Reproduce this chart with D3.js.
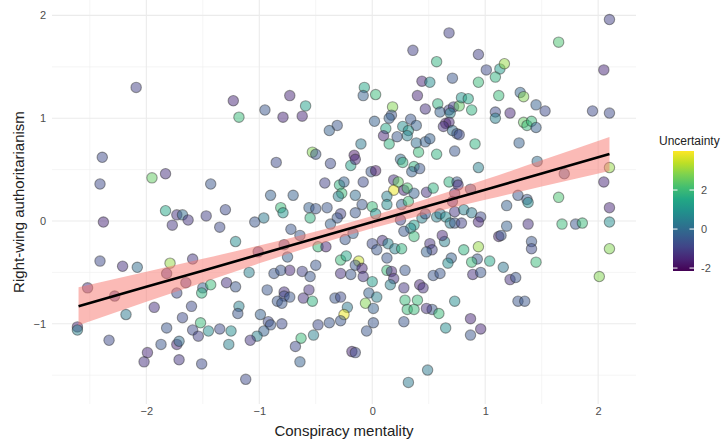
<!DOCTYPE html>
<html><head><meta charset="utf-8">
<script src="https://cdn.jsdelivr.net/npm/d3@7"></script>
<style>body{margin:0;background:#fff;} text{font-family:"Liberation Sans", Arial, sans-serif;}</style>
</head><body><svg id="c" width="722" height="442"></svg>
<script>
const conspiracy = [-2.09,-1.23,-1.18,-2.39,-2.41,-1.95,-1.83,-1.43,
0.36,-0.07,-0.08,0.03,0.44,0.51,0.40,0.47,-0.73,-0.95,-0.79,-0.62,-0.59,0.18,0.17,0.15,0.34,0.39,0.27,0.32,0.31,0.12,0.10,0.22,0.02,-0.31,-0.38,-0.10,0.15,0.39,0.47,0.41,0.25,0.27,0.37,0.35,0.42,-0.53,-0.50,-0.85,-0.37,-0.19,-0.16,-0.15,-0.01,0.03,-0.42,-0.29,-0.25,-0.08,-0.27,-0.30,-0.15,-0.90,-0.70,0.19,0.23,0.19,0.28,0.31,0.37,0.48,0.13,
0.57,0.71,0.58,0.60,0.68,0.72,0.69,0.77,0.65,0.68,0.63,0.71,0.75,0.51,0.57,0.73,0.68,0.75,
0.68,2.10,1.65,0.94,1.01,1.13,1.17,1.09,0.94,2.05,1.12,1.31,1.34,0.79,0.85,0.88,1.09,1.09,1.22,1.45,1.53,1.95,2.10,1.34,1.37,1.41,1.45,0.77,1.30,0.91,0.94,1.46,1.70,2.10,2.05,0.76,0.54,0.73,0.87,1.29,1.37,1.65,
1.19,1.38,2.10,2.10,1.68,1.80,1.86,1.38,1.19,2.10,2.01,1.41,1.41,1.45,1.12,1.14,0.94,0.81,0.93,0.88,1.04,1.16,0.89,0.96,1.22,1.27,1.29,1.35,0.73,0.53,0.59,0.87,0.96,0.87,0.65,0.49,0.51,0.53,0.64,0.62,0.70,0.67,0.54,0.60,0.57,0.60,0.65,0.69,0.73,0.79,0.73,0.81,0.88,0.96,0.94,0.71,
-0.81,-0.79,-0.56,-0.50,-0.55,-0.40,-0.28,-0.31,-0.37,-0.15,-0.09,0.00,0.03,0.13,0.26,0.32,0.44,0.47,0.37,0.34,0.28,0.25,0.37,-1.04,-0.96,-0.72,-0.64,-0.78,-0.48,-0.41,-0.24,-0.17,0.00,0.09,0.14,0.04,0.20,0.26,0.13,0.48,-0.75,-0.28,-0.23,-0.12,-0.15,-0.09,-0.73,-0.62,-0.87,-0.81,-0.55,-0.50,-1.09,-0.28,-0.19,-0.08,0.00,0.13,0.17,0.19,0.16,0.29,0.42,0.45,0.28,-0.93,-0.78,-0.78,-0.73,-0.84,-0.80,-0.56,-0.61,-0.53,-0.33,-0.28,-0.03,-0.06,0.01,0.04,-0.22,-0.25,-0.28,0.29,0.40,0.31,0.37,0.48,0.28,0.01,-0.05,-0.38,-0.48,-0.52,-0.63,-0.68,-0.64,-0.99,-0.92,-0.90,-0.80,-0.96,-1.02,-1.08,-0.18,-0.15,-1.12,0.32,
-1.83,-1.73,-1.68,-1.63,-1.77,-1.47,-1.30,-1.35,-2.38,-1.21,-2.41,-2.21,-2.08,-1.79,-1.82,-1.59,-1.65,-2.52,-2.28,-1.73,-1.50,-1.43,-1.51,-1.29,-1.21,-1.18,-1.19,-1.93,-1.60,-2.18,-1.68,-1.52,-1.82,-1.59,-1.54,-1.45,-1.35,-1.25,-1.27,-2.61,-2.61,-2.33,-1.87,-1.73,-1.71,-1.99,-2.02,-1.71,-1.51,
-1.01];
const rwa = [1.30,1.17,1.01,0.62,0.36,0.42,0.46,0.36,
1.66,1.30,1.22,1.23,1.36,1.35,1.22,1.09,1.22,1.08,1.01,1.02,1.12,1.11,1.03,1.00,0.99,0.93,0.92,0.88,0.83,0.90,0.83,0.82,0.97,0.93,0.88,0.75,0.75,0.76,0.77,0.67,0.60,0.57,0.53,0.48,0.51,0.67,0.65,0.57,0.56,0.54,0.64,0.60,0.48,0.49,0.37,0.35,0.38,0.38,0.27,0.24,0.25,0.25,0.25,0.40,0.38,0.30,0.30,0.32,0.27,0.28,0.24,
1.55,1.39,1.14,1.06,1.08,1.11,1.05,1.12,0.95,0.96,0.92,0.88,0.85,0.80,0.65,0.68,0.38,0.38,
1.83,1.96,1.74,1.62,1.47,1.48,1.53,1.40,1.35,1.47,1.22,1.25,1.21,1.20,1.19,1.08,1.06,1.00,1.05,1.13,1.07,1.07,1.05,0.96,0.93,0.97,0.91,0.84,0.76,0.75,0.52,0.58,0.46,0.52,0.38,0.35,0.32,0.27,0.31,0.25,0.21,0.23,
0.15,0.18,0.13,-0.01,-0.03,-0.03,-0.02,-0.03,-0.05,-0.27,-0.54,-0.20,-0.27,-0.40,-0.15,-0.14,-0.25,-0.28,-0.37,-0.40,-0.39,-0.45,-0.52,-0.50,-0.57,-0.55,-0.78,-0.78,-0.78,-0.86,-0.90,-0.95,-1.05,-1.11,-1.04,-1.45,-0.22,-0.28,-0.20,-0.14,-0.36,-0.41,-0.53,-0.51,0.04,0.07,0.04,-0.02,-0.02,-0.02,0.09,0.11,0.08,0.04,-0.01,0.19,
0.13,0.08,0.13,0.12,0.03,0.13,0.07,0.03,-0.03,0.08,0.16,0.14,0.07,0.16,0.16,0.19,0.03,0.07,-0.04,-0.07,-0.10,0.01,-0.15,-0.01,0.03,-0.08,-0.14,-0.23,-0.25,-0.25,-0.18,-0.12,-0.22,-0.19,-0.22,-0.28,-0.27,-0.27,-0.36,-0.30,-0.35,-0.38,-0.34,-0.39,-0.43,-0.46,-0.48,-0.49,-0.51,-0.48,-0.54,-0.43,-0.50,-0.51,-0.52,-0.54,-0.59,-0.48,-0.49,-0.56,-0.62,-0.48,-0.62,-0.65,-0.65,-0.67,-0.69,-0.73,-0.74,-0.78,-0.80,-0.67,-0.75,-0.78,-0.75,-0.74,-0.70,-0.80,-0.85,-0.74,-0.84,-0.91,-0.97,-0.77,-0.77,-0.86,-0.86,-0.85,-0.98,-0.99,-1.07,-0.99,-1.01,-1.11,-1.14,-1.22,-1.37,-0.91,-0.98,-1.01,-1.00,-1.07,-1.12,-1.16,-1.27,-1.28,-1.54,-1.57,
0.10,0.06,0.06,0.01,-0.04,0.05,0.11,-0.06,-0.01,-0.20,-0.39,-0.44,-0.45,-0.41,-0.51,-0.37,-0.60,-0.65,-0.73,-0.70,-0.65,-0.62,-0.70,-0.60,-0.64,-0.83,-0.90,-0.84,-0.83,-0.91,-0.94,-0.99,-1.04,-1.06,-1.12,-1.07,-1.05,-1.07,-1.20,-1.03,-1.06,-1.16,-1.20,-1.20,-1.17,-1.28,-1.37,-1.35,-1.39,
-0.30];
const uncertainty = [-1,-1.5,2,-0.8,-0.8,2.5,-1.3,-0.5,
-1,1.5,-0.3,2,-1.5,0.8,-1.5,-1.3,-1.5,-0.5,-1.5,-1.5,1.3,2.8,-0.5,-0.3,-0.5,-0.3,0.8,1,0.5,1.5,-1.5,-0.5,-0.3,-0.5,-0.3,0.3,1.8,0,-0.3,2,0,1.8,1.8,-0.3,-0.5,2.8,-0.5,-0.8,-0.8,1.3,-1.8,-1.5,-0.5,-1.8,-1,1.8,-0.3,-0.8,2,0.5,0,-0.3,-0.3,-1.3,2.5,3.8,-1.5,2.2,-0.3,-1.3,0.5,
1.8,-0.5,1.8,-0.3,-1,-1,0.5,2.5,-1.8,-1.5,-1.3,0,-0.5,-0.3,1.8,-0.5,1.8,-0.5,
-1,-1,2.2,-1,-0.8,1.2,3,1.8,2,-1.5,2,-0.2,2.8,1,1.5,1.8,-0.8,0.5,-1.5,-0.3,-0.8,-0.8,-0.8,2.5,2,2,-0.3,-0.8,-0.3,1.8,0.5,0,-0.5,3,-1.5,-1.3,1.8,-1.2,-0.5,-0.5,-0.5,2.2,
-0.3,0.8,-1.5,0.8,2,-0.5,2,-1.3,-0.3,2.8,2.8,-0.5,-0.8,2,-1.5,-0.5,3,1.8,-0.5,2,1.5,0.2,-1.3,-0.5,-1.3,-0.5,-0.5,-0.5,0.8,-0.5,2,-1.5,-1.5,-0.5,0.8,0.3,-1.3,-1,0.5,-1.5,-0.3,0.8,-0.5,-0.5,0.5,0.3,0.8,0.5,-0.5,-1,-1.2,0.5,0.3,-0.8,-1.5,-1.3,
2,1,-0.3,-0.5,1.8,-0.5,-1,-0.5,-0.3,-0.5,-0.5,2,1,0.8,-0.3,2,0.5,-0.5,1.2,0.8,-0.5,-1,2,-0.5,0.3,-0.5,-0.5,-1,2,-1.5,-0.5,-0.3,-0.8,-1.3,0.5,-0.5,0.5,1.8,-0.5,-0.3,-0.3,2,1.5,3.5,-0.5,-1.5,-1.5,-1,-0.5,-0.5,-0.5,-0.5,0.5,-1.3,-0.5,-1.2,1.2,2,-1.5,-1.3,0.5,-0.5,-1.5,-1.3,-1.2,-0.5,-1.3,-0.8,-0.5,-0.5,-0.5,-1.3,-1.3,1.8,-0.5,-0.8,-0.3,2.8,-0.3,0.5,0.3,3.8,-0.5,2,2,2,2,-1.3,-0.5,-0.5,-0.5,-0.5,-0.8,0.5,2,-0.8,-0.3,-0.3,-0.8,-0.5,-0.8,-0.3,0.5,-1.2,-1.5,-0.8,-0.8,0.3,
1.5,-1.3,0,-1.2,-1.2,-1,-0.8,-0.8,-1.5,0.8,-0.8,-1.3,0,3,-1.3,-1.2,-1.2,-1.3,-1.3,-0.8,-0.3,2,1.8,-1.3,-0.5,0.5,-0.5,-1.3,-0.8,0.3,-0.8,2,-0.5,-0.8,-1,0.8,-0.8,0.8,0.5,-1.5,0.5,-0.8,-0.5,-1.5,0,-1.5,-1.3,-1.2,-0.8,
-1.2];

const xTicks = [-2, -1, 0, 1, 2];
const xMinorTicks = [-2.5, -1.5, -0.5, 0.5, 1.5];
const yTicks = [-1, 0, 1, 2];
const yMinorTicks = [-1.5, -0.5, 0.5, 1.5];
const legendTicks = [-2, 0, 2];

// fitted regression line and its confidence band
const fitX  = [-2.6, -2.0, -1.5, -1.0, -0.5, 0.0, 0.5, 1.0, 1.5, 2.1];
const fitY  = [-0.829, -0.640, -0.483, -0.325, -0.168, -0.010, 0.148, 0.305, 0.463, 0.652];
const fitLo = [-1.014, -0.786, -0.598, -0.412, -0.234, -0.070, 0.074, 0.207, 0.335, 0.486];
const fitHi = [-0.644, -0.494, -0.368, -0.238, -0.101, 0.050, 0.221, 0.403, 0.590, 0.817];

const svg = d3.select("#c");
const x = d3.scaleLinear().domain([-2.835, 2.335]).range([52, 636]);
const y = d3.scaleLinear().domain([-1.78, 2.15]).range([404, 0]);
const col = d3.scaleSequential(d3.interpolateViridis).domain([-2.15, 4.0]);

// grid
const grid = svg.append("g");
grid.selectAll(".xm").data(xMinorTicks).join("line")
  .attr("x1", d => x(d)).attr("x2", d => x(d)).attr("y1", 0).attr("y2", 404)
  .attr("stroke", "#efefef").attr("stroke-width", 0.6);
grid.selectAll(".ym").data(yMinorTicks).join("line")
  .attr("y1", d => y(d)).attr("y2", d => y(d)).attr("x1", 52).attr("x2", 636)
  .attr("stroke", "#efefef").attr("stroke-width", 0.6);
grid.selectAll(".xM").data(xTicks).join("line")
  .attr("x1", d => x(d)).attr("x2", d => x(d)).attr("y1", 0).attr("y2", 404)
  .attr("stroke", "#ebebeb").attr("stroke-width", 1.1);
grid.selectAll(".yM").data(yTicks).join("line")
  .attr("y1", d => y(d)).attr("y2", d => y(d)).attr("x1", 52).attr("x2", 636)
  .attr("stroke", "#ebebeb").attr("stroke-width", 1.1);

// points
const pts = conspiracy.map((c, i) => ({x: c, y: rwa[i], u: uncertainty[i]}));
svg.append("g").selectAll("circle").data(pts).join("circle")
  .attr("cx", d => x(d.x)).attr("cy", d => y(d.y)).attr("r", 5.2)
  .attr("fill", d => col(d.u)).attr("fill-opacity", 0.5)
  .attr("stroke", "#2a2a2a").attr("stroke-opacity", 0.45).attr("stroke-width", 1.1);

// band + line
const band = fitX.map((v, i) => ({x: v, lo: fitLo[i], hi: fitHi[i], y: fitY[i]}));
svg.append("path").datum(band)
  .attr("d", d3.area().x(d => x(d.x)).y0(d => y(d.lo)).y1(d => y(d.hi)).curve(d3.curveMonotoneX))
  .attr("fill", "#F8766D").attr("fill-opacity", 0.5);
svg.append("path").datum(band)
  .attr("d", d3.line().x(d => x(d.x)).y(d => y(d.y)))
  .attr("fill", "none").attr("stroke", "#000").attr("stroke-width", 2.6);

// axes
const xAxis = svg.append("g").attr("transform", "translate(0,404)")
  .call(d3.axisBottom(x).tickValues(xTicks).tickSize(0).tickPadding(3).tickFormat(d3.format("d")));
const yAxis = svg.append("g").attr("transform", "translate(52,0)")
  .call(d3.axisLeft(y).tickValues(yTicks).tickSize(0).tickPadding(6).tickFormat(d3.format("d")));
[xAxis, yAxis].forEach(a => {
  a.select(".domain").remove();
  a.selectAll("text").attr("fill", "#4d4d4d").style("font-size", "11px")
    .style("font-family", "'Liberation Sans', Arial, sans-serif");
});

svg.append("text").attr("x", 344).attr("y", 436).attr("text-anchor", "middle")
  .attr("fill", "#222").style("font-size", "15px").text("Conspiracy mentality");
svg.append("text").attr("transform", "translate(24,202) rotate(-90)").attr("text-anchor", "middle")
  .attr("fill", "#222").style("font-size", "15px").text("Right-wing authoritarianism");

// legend
const lg = svg.append("g");
lg.append("text").attr("x", 659).attr("y", 145).attr("fill", "#222").style("font-size", "12px").text("Uncertainty");
const ly = d3.scaleLinear().domain([-2.15, 4.0]).range([271, 151]);
const defs = svg.append("defs");
const grad = defs.append("linearGradient").attr("id", "vg").attr("x1", 0).attr("x2", 0).attr("y1", 1).attr("y2", 0);
d3.range(0, 1.0001, 0.1).forEach(t => grad.append("stop").attr("offset", t).attr("stop-color", d3.interpolateViridis(t)));
lg.append("rect").attr("x", 673).attr("y", 151).attr("width", 21).attr("height", 120).attr("fill", "url(#vg)");
legendTicks.forEach(t => {
  lg.append("line").attr("x1", 673).attr("x2", 677.5).attr("y1", ly(t)).attr("y2", ly(t)).attr("stroke", "#fff").attr("stroke-width", 1);
  lg.append("line").attr("x1", 689.5).attr("x2", 694).attr("y1", ly(t)).attr("y2", ly(t)).attr("stroke", "#fff").attr("stroke-width", 1);
  lg.append("text").attr("x", 701).attr("y", ly(t)).attr("dy", "0.35em").attr("fill", "#4d4d4d").style("font-size", "11px").text(t);
});
</script></body></html>
